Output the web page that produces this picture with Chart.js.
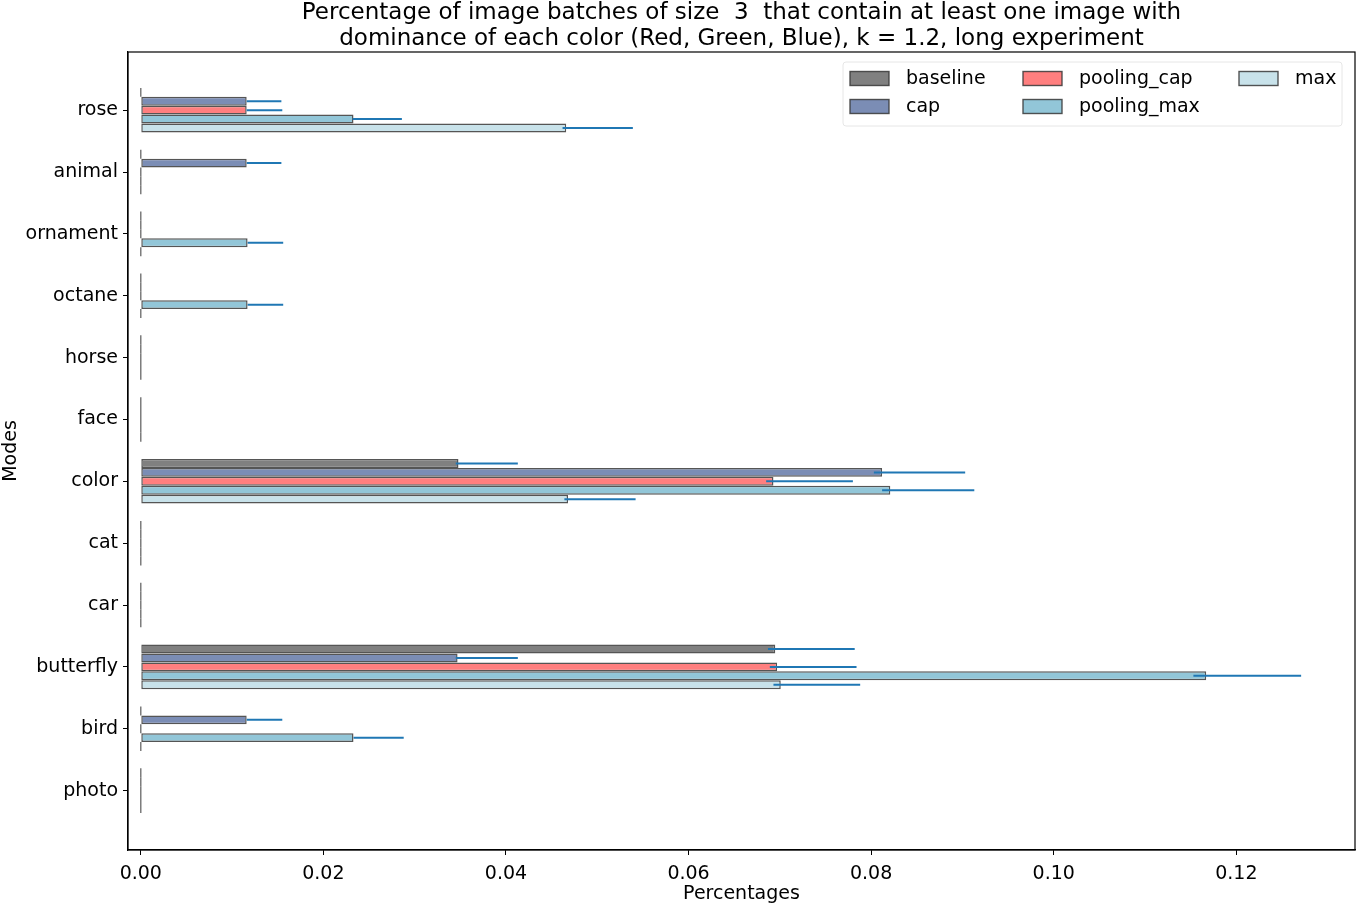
<!DOCTYPE html>
<html>
<head>
<meta charset="utf-8">
<script src="https://cdn.jsdelivr.net/npm/chart.js@4.4.1/dist/chart.umd.min.js"></script>
<style>
    html, body { margin: 0; padding: 0; background: #fff; }
</style>
</head>
<body>
<canvas id="modesChart" width="1359" height="903"></canvas>
<script>
//-------------------------------------- Data ---------------------------------------//
var modes = ['rose', 'animal', 'ornament', 'octane', 'horse', 'face', 'color', 'cat', 'car', 'butterfly', 'bird', 'photo'];

var baseline     = [0, 0, 0, 0, 0, 0, 0.0348, 0, 0, 0.0695, 0, 0];
var baselineLo   = [0, 0, 0, 0, 0, 0, 0.0003, 0, 0, 0.0008, 0, 0];
var baselineHi   = [0, 0, 0, 0, 0, 0, 0.0065, 0, 0, 0.0087, 0, 0];

var cap          = [0.0116, 0.0116, 0, 0, 0, 0, 0.0812, 0, 0, 0.0347, 0.0116, 0];
var capLo        = [0, 0, 0, 0, 0, 0, 0.0009, 0, 0, 0.0002, 0, 0];
var capHi        = [0.0038, 0.0038, 0, 0, 0, 0, 0.0091, 0, 0, 0.0066, 0.0039, 0];

var poolingCap   = [0.0116, 0, 0, 0, 0, 0, 0.0693, 0, 0, 0.0697, 0, 0];
var poolingCapLo = [0, 0, 0, 0, 0, 0, 0.0008, 0, 0, 0.0008, 0, 0];
var poolingCapHi = [0.0039, 0, 0, 0, 0, 0, 0.0087, 0, 0, 0.0087, 0, 0];

var poolingMax   = [0.0233, 0, 0.0117, 0.0117, 0, 0, 0.0821, 0, 0, 0.1167, 0.0233, 0];
var poolingMaxLo = [0.0001, 0, 0, 0, 0, 0, 0.0009, 0, 0, 0.0014, 0, 0];
var poolingMaxHi = [0.0053, 0, 0.0039, 0.0039, 0, 0, 0.0092, 0, 0, 0.0104, 0.0055, 0];

var maxVals      = [0.0466, 0, 0, 0, 0, 0, 0.0468, 0, 0, 0.0701, 0, 0];
var maxLo        = [0.0004, 0, 0, 0, 0, 0, 0.0004, 0, 0, 0.0008, 0, 0];
var maxHi        = [0.0073, 0, 0, 0, 0, 0, 0.0074, 0, 0, 0.0087, 0, 0];

var xTicks = [0, 0.02, 0.04, 0.06, 0.08, 0.10, 0.12];

var titleLines = [
    'Percentage of image batches of size  3  that contain at least one image with',
    'dominance of each color (Red, Green, Blue), k = 1.2, long experiment'
];

//-------------------------------------- Helpers ---------------------------------------//
var EDGE = 'rgba(55, 55, 55, 0.85)';

function toPoints(vals) {
    return vals.map(function (v, i) { return { x: v, y: i }; });
}

function makeSet(label, vals, lo, hi, color) {
    return {
        label: label,
        data: toPoints(vals),
        errLo: lo,
        errHi: hi,
        backgroundColor: color,
        borderColor: EDGE,
        borderWidth: 1.5,
        borderSkipped: false,
        categoryPercentage: 0.72,
        barPercentage: 1.0
    };
}

var FONT = 'DejaVu Sans';
Chart.defaults.font.family = FONT;
Chart.defaults.font.size = 19;
Chart.defaults.color = '#000';

// ----* zero-width bars show as a thin gray line at x = 0 *---- //
var zeroLinePlugin = {
    id: 'zeroLines',
    afterDatasetsDraw: function (chart) {
        var ctx = chart.ctx;
        var xs = chart.scales.x;
        ctx.save();
        ctx.strokeStyle = 'rgba(100, 100, 100, 0.9)';
        ctx.lineWidth = 1.4;
        chart.data.datasets.forEach(function (ds, d) {
            chart.getDatasetMeta(d).data.forEach(function (bar, i) {
                if (ds.data[i].x !== 0) return;
                var px = xs.getPixelForValue(0);
                ctx.beginPath();
                ctx.moveTo(px, bar.y - bar.height / 2);
                ctx.lineTo(px, bar.y + bar.height / 2);
                ctx.stroke();
            });
        });
        ctx.restore();
    }
};

// ----* error bars *---- //
var errorBarPlugin = {
    id: 'errorBars',
    afterDatasetsDraw: function (chart) {
        var ctx = chart.ctx;
        var xs = chart.scales.x;
        ctx.save();
        ctx.strokeStyle = '#1f77b4';
        ctx.lineWidth = 2;
        chart.data.datasets.forEach(function (ds, d) {
            chart.getDatasetMeta(d).data.forEach(function (bar, i) {
                var v = ds.data[i].x;
                if (!ds.errHi[i]) return;
                ctx.beginPath();
                ctx.moveTo(xs.getPixelForValue(v - ds.errLo[i]), bar.y);
                ctx.lineTo(xs.getPixelForValue(v + ds.errHi[i]), bar.y);
                ctx.stroke();
            });
        });
        ctx.restore();
    }
};

// ----* frame, title and legend *---- //
var decorPlugin = {
    id: 'decor',
    afterDraw: function (chart) {
        var ctx = chart.ctx;
        var a = chart.chartArea;
        ctx.save();
        // frame
        ctx.strokeStyle = '#000';
        ctx.lineWidth = 1.2;
        ctx.strokeRect(a.left, a.top, a.right - a.left, a.bottom - a.top);

        // title
        var cx = (a.left + a.right) / 2;
        ctx.fillStyle = '#000';
        ctx.textAlign = 'center';
        ctx.textBaseline = 'alphabetic';
        ctx.font = '23px ' + FONT;
        ctx.fillText(titleLines[0], cx, 18.5);
        ctx.fillText(titleLines[1], cx, 44.5);

        // legend box
        var lx = 843, ly = 62, lw = 499, lh = 64;
        ctx.fillStyle = 'rgba(255,255,255,0.8)';
        ctx.strokeStyle = '#e6e6e6';
        ctx.lineWidth = 1;
        ctx.beginPath();
        ctx.roundRect(lx, ly, lw, lh, 3);
        ctx.fill();
        ctx.stroke();

        var cols = [850, 1023, 1239];
        var rows = [78.5, 106.5];
        ctx.font = '19px ' + FONT;
        ctx.textAlign = 'left';
        ctx.textBaseline = 'middle';
        chart.data.datasets.forEach(function (ds, d) {
            var col = Math.floor(d / 2);
            var row = d % 2;
            var sx = cols[col], sy = rows[row];
            ctx.fillStyle = ds.backgroundColor;
            ctx.fillRect(sx, sy - 7, 39, 14);
            ctx.strokeStyle = EDGE;
            ctx.lineWidth = 1.4;
            ctx.strokeRect(sx, sy - 7, 39, 14);
            ctx.fillStyle = '#000';
            ctx.fillText(ds.label, sx + 56, sy + 1);
        });
        ctx.restore();
    }
};

//-------------------------------------- Chart ---------------------------------------//
var modesChart = new Chart(document.getElementById('modesChart'), {
    type: 'bar',
    data: {
        datasets: [
            makeSet('baseline', baseline, baselineLo, baselineHi, '#808080'),
            makeSet('cap', cap, capLo, capHi, '#7b8db5'),
            makeSet('pooling_cap', poolingCap, poolingCapLo, poolingCapHi, '#ff7f7f'),
            makeSet('pooling_max', poolingMax, poolingMaxLo, poolingMaxHi, '#92c6d8'),
            makeSet('max', maxVals, maxLo, maxHi, '#c8e2ea')
        ]
    },
    options: {
        indexAxis: 'y',
        responsive: false,
        animation: false,
        layout: {
            padding: { top: 52, right: 4, left: 0, bottom: 0 }
        },
        plugins: {
            legend: { display: false },
            title: { display: false },
            tooltip: { enabled: false }
        },
        scales: {
            x: {
                type: 'linear',
                min: -0.0014,
                max: 0.133,
                afterFit: function (scale) { scale.height = 53; },
                afterBuildTicks: function (scale) {
                    scale.ticks = xTicks.map(function (v) { return { value: v }; });
                },
                ticks: {
                    padding: 8,
                    callback: function (v) { return Number(v).toFixed(2); }
                },
                grid: { drawOnChartArea: false, tickLength: 5, color: '#000', lineWidth: 1 },
                border: { display: true, color: '#000', width: 1.2 },
                title: { display: true, text: 'Percentages', padding: { top: 0, bottom: -2 } }
            },
            y: {
                type: 'linear',
                reverse: true,
                offset: false,
                min: -0.94,
                max: 11.96,
                afterFit: function (scale) { scale.width = 128; },
                afterBuildTicks: function (scale) {
                    scale.ticks = modes.map(function (m, i) { return { value: i }; });
                },
                ticks: {
                    padding: 5,
                    autoSkip: false,
                    callback: function (v) { return modes[v]; }
                },
                grid: { offset: false, drawOnChartArea: false, tickLength: 5, color: '#000', lineWidth: 1 },
                border: { display: true, color: '#000', width: 1.2 },
                title: { display: true, text: 'Modes', padding: { top: 0, bottom: 0 } }
            }
        }
    },
    plugins: [zeroLinePlugin, errorBarPlugin, decorPlugin]
});
</script>
</body>
</html>
